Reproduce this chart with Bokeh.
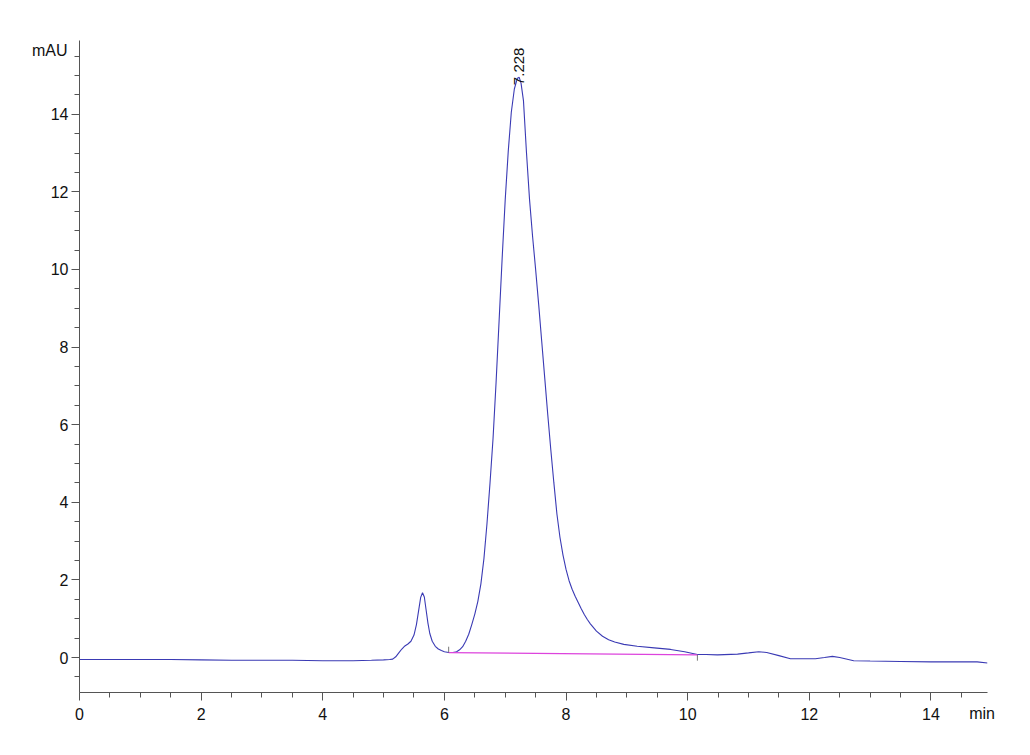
import math
from bokeh.plotting import figure
from bokeh.models import FixedTicker, Label, Range1d, LinearAxis
from bokeh.embed import file_html
from bokeh.resources import INLINE

# Chromatogram trace (time in min, absorbance in mAU)
time = [0.0, 0.5, 1.0, 1.5, 2.0, 2.5, 3.0, 3.5, 4.0, 4.5, 4.8, 5.0, 5.10,
        5.15, 5.20, 5.25, 5.30, 5.35, 5.40, 5.45, 5.50, 5.54, 5.58, 5.61,
        5.64, 5.67, 5.70, 5.73, 5.76, 5.80, 5.85, 5.90, 5.95, 6.00, 6.07,
        6.14, 6.20, 6.25, 6.30, 6.35, 6.40, 6.45, 6.50, 6.55, 6.60, 6.65,
        6.70, 6.75, 6.80, 6.85, 6.90, 6.95, 7.00, 7.05, 7.10, 7.15, 7.20,
        7.23, 7.26, 7.30, 7.35, 7.40, 7.45, 7.50, 7.55, 7.60, 7.65, 7.70,
        7.75, 7.80, 7.85, 7.90, 7.95, 8.00, 8.05, 8.10, 8.15, 8.20, 8.25,
        8.30, 8.35, 8.40, 8.50, 8.60, 8.70, 8.80, 8.95, 9.17, 9.45, 9.72,
        9.95, 10.16, 10.30, 10.49, 10.82, 11.0, 11.17, 11.3, 11.5, 11.69,
        11.9, 12.1, 12.25, 12.38, 12.5, 12.73, 13.0, 13.5, 14.0, 14.5,
        14.76, 14.93]
signal = [-0.05, -0.05, -0.05, -0.05, -0.06, -0.07, -0.07, -0.07, -0.08,
          -0.08, -0.07, -0.06, -0.05,
          -0.04, 0.02, 0.12, 0.22, 0.30, 0.35, 0.42, 0.58, 0.85, 1.25, 1.55,
          1.67, 1.56, 1.22, 0.88, 0.62, 0.42, 0.29, 0.22, 0.18, 0.15, 0.13,
          0.13, 0.15, 0.20, 0.28, 0.42, 0.60, 0.85, 1.12, 1.45, 1.90, 2.55,
          3.45, 4.50, 5.65, 7.10, 8.70, 10.30, 11.80, 13.05, 14.05, 14.65, 14.93,
          14.95, 14.80, 14.35, 13.00, 11.80, 10.85, 10.00, 9.10, 8.15, 7.20, 6.25,
          5.35, 4.50, 3.70, 3.10, 2.64, 2.27, 1.98, 1.76, 1.58, 1.42, 1.26,
          1.11, 0.98, 0.87, 0.68, 0.55, 0.46, 0.40, 0.34, 0.29, 0.25, 0.21,
          0.15, 0.08, 0.08, 0.07, 0.09, 0.12, 0.15, 0.13, 0.05, -0.03,
          -0.03, -0.03, 0.0, 0.03, 0.0, -0.08, -0.09, -0.10, -0.11, -0.11,
          -0.11, -0.14]

# Integration baseline for the main peak
baseline_t = [6.07, 10.16]
baseline_v = [0.13, 0.07]

# Integration start/end markers (time, y0, y1)
marker_t = [6.07, 10.16]
marker_y0 = [0.13, 0.07]
marker_y1 = [0.28, -0.08]

peak_rt = 7.228
peak_label = "7.228"

x_major = [0, 2, 4, 6, 8, 10, 12, 14]
x_minor = [i * 0.5 for i in range(0, 30)]
y_major = [0, 2, 4, 6, 8, 10, 12, 14]
y_minor = [-0.5 + i * 0.5 for i in range(0, 34)]

y_unit = "mAU"
x_unit = "min"
y_unit_pos = 15.65
x_unit_pos = 14.84

FONT = "Liberation Sans"

p = figure(width=1014, height=739, output_backend="svg", toolbar_location=None,
           x_range=Range1d(0, 14.93), y_range=Range1d(-0.9, 15.9),
           min_border_left=79, min_border_right=27, min_border_top=40,
           min_border_bottom=47)
p.outline_line_color = None
p.grid.visible = False
p.background_fill_color = "white"
p.border_fill_color = "white"

p.line(time, signal, line_color="#3a3ab4", line_width=1.1)
p.line(baseline_t, baseline_v, line_color="#dd44dd", line_width=1.3)
p.segment(x0=marker_t, y0=marker_y0, x1=marker_t, y1=marker_y1,
          line_color="#777777", line_width=1)

for ax, maj, mn in ((p.xaxis[0], x_major, x_minor), (p.yaxis[0], y_major, y_minor)):
    ax.ticker = FixedTicker(ticks=maj, minor_ticks=mn)
    ax.axis_line_color = "#555555"
    ax.major_tick_line_color = "#555555"
    ax.minor_tick_line_color = "#555555"
    ax.major_tick_out = 8
    ax.major_tick_in = 0
    ax.minor_tick_out = 5
    ax.minor_tick_in = 0
    ax.major_label_text_font = FONT
    ax.major_label_text_font_size = "16px"
    ax.major_label_text_color = "#111111"
p.xaxis.major_label_standoff = 7
p.yaxis.major_label_standoff = 3


def unit_axis(pos, text, standoff):
    ax = LinearAxis(ticker=FixedTicker(ticks=[pos], minor_ticks=[]),
                    major_label_overrides={pos: text, str(pos): text})
    ax.axis_line_color = None
    ax.major_tick_line_color = None
    ax.minor_tick_line_color = None
    ax.major_tick_out = 0
    ax.major_tick_in = 0
    ax.minor_tick_out = 0
    ax.minor_tick_in = 0
    ax.major_label_standoff = standoff
    ax.major_label_text_font = FONT
    ax.major_label_text_font_size = "16px"
    ax.major_label_text_color = "#111111"
    return ax


p.add_layout(unit_axis(y_unit_pos, y_unit, -20), "left")
p.add_layout(unit_axis(x_unit_pos, x_unit, -18), "below")

p.add_layout(Label(x=peak_rt, y=14.75, text=peak_label, angle=math.pi / 2,
                   text_font=FONT, text_font_size="15px",
                   text_baseline="middle", text_align="left",
                   text_color="#111111"))

open("out.html", "w").write(file_html(p, INLINE))
